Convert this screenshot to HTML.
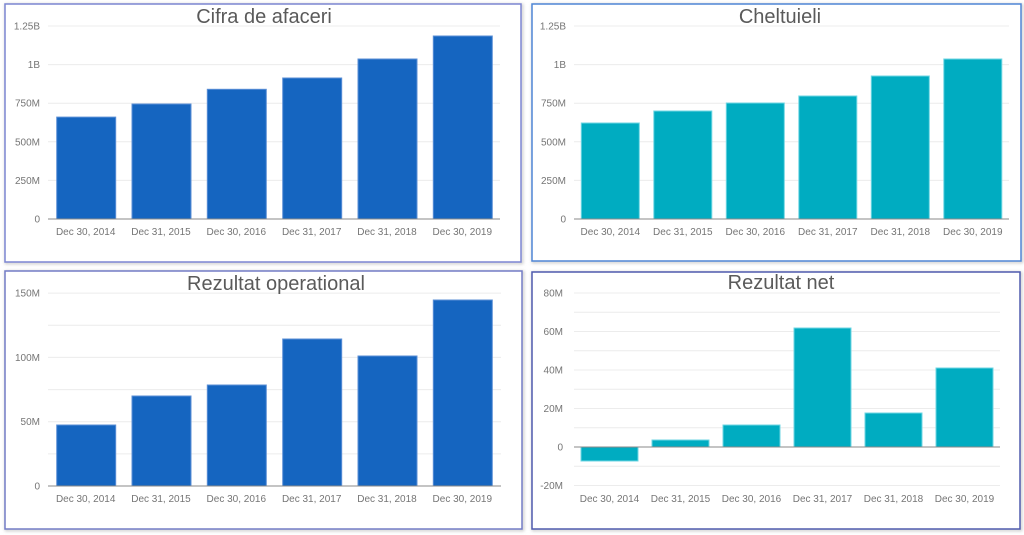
<!DOCTYPE html>
<html><head><meta charset="utf-8"><style>
html,body{margin:0;padding:0;background:#fff;}
svg{display:block;font-family:"Liberation Sans",Arial,sans-serif;}
.t{font-size:20px;fill:#5a5a5a;text-anchor:middle;}
.yl{font-size:10px;fill:#757575;text-anchor:end;}
.xl{font-size:10px;fill:#757575;text-anchor:middle;}
.g{stroke:#ececec;stroke-width:1;}
.ax{stroke:#8a8a8a;stroke-width:1;}
.b1{fill:#1565c0;stroke:#5b8fd6;stroke-width:1;}
.b2{fill:#00acc1;stroke:#6fd6e3;stroke-width:1;}
</style></head><body>
<svg width="1024" height="535" viewBox="0 0 1024 535" xmlns="http://www.w3.org/2000/svg">
<defs><filter id="sh" x="-5%" y="-5%" width="110%" height="110%"><feGaussianBlur stdDeviation="1.5"/></filter></defs>
<!-- panel shadows -->
<rect x="6" y="5" width="516" height="258" fill="none" stroke="#bbb" stroke-width="2" filter="url(#sh)"/>
<rect x="533" y="5" width="489" height="257" fill="none" stroke="#bbb" stroke-width="2" filter="url(#sh)"/>
<rect x="6" y="272" width="517" height="258" fill="none" stroke="#bbb" stroke-width="2" filter="url(#sh)"/>
<rect x="533" y="273" width="488" height="257" fill="none" stroke="#bbb" stroke-width="2" filter="url(#sh)"/>
<!-- panels -->
<rect x="5" y="4" width="516" height="258" fill="#fff" stroke="#7c86d2" stroke-width="1.5"/>
<rect x="532" y="4" width="489" height="257" fill="#fff" stroke="#4f86d6" stroke-width="1.5"/>
<rect x="5" y="271" width="517" height="258" fill="#fff" stroke="#737cc6" stroke-width="1.5"/>
<rect x="532" y="272" width="488" height="257" fill="#fff" stroke="#4f5aae" stroke-width="1.5"/>

<!-- TL: Cifra de afaceri -->
<g>
<line class="g" x1="48" x2="500" y1="26" y2="26"/>
<line class="g" x1="48" x2="500" y1="64.6" y2="64.6"/>
<line class="g" x1="48" x2="500" y1="103.2" y2="103.2"/>
<line class="g" x1="48" x2="500" y1="141.8" y2="141.8"/>
<line class="g" x1="48" x2="500" y1="180.4" y2="180.4"/>
<text class="yl" x="40" y="29.5">1.25B</text>
<text class="yl" x="40" y="68">1B</text>
<text class="yl" x="40" y="106.5">750M</text>
<text class="yl" x="40" y="145.5">500M</text>
<text class="yl" x="40" y="184">250M</text>
<text class="yl" x="40" y="222.5">0</text>
<rect class="b1" x="56.7" y="117.1" width="59" height="101.9"/>
<rect class="b1" x="132" y="104" width="59" height="115"/>
<rect class="b1" x="207.3" y="89.3" width="59" height="129.7"/>
<rect class="b1" x="282.7" y="78" width="59" height="141"/>
<rect class="b1" x="358" y="59" width="59" height="160"/>
<rect class="b1" x="433.3" y="36" width="59" height="183"/>
<line class="ax" x1="48" x2="500" y1="219" y2="219"/>
<text class="xl" x="85.7" y="235">Dec 30, 2014</text>
<text class="xl" x="161" y="235">Dec 31, 2015</text>
<text class="xl" x="236.3" y="235">Dec 30, 2016</text>
<text class="xl" x="311.7" y="235">Dec 31, 2017</text>
<text class="xl" x="387" y="235">Dec 31, 2018</text>
<text class="xl" x="462.3" y="235">Dec 30, 2019</text>
<text class="t" x="264" y="23">Cifra de afaceri</text>
</g>

<!-- TR: Cheltuieli -->
<g>
<line class="g" x1="574" x2="1009" y1="26" y2="26"/>
<line class="g" x1="574" x2="1009" y1="64.6" y2="64.6"/>
<line class="g" x1="574" x2="1009" y1="103.2" y2="103.2"/>
<line class="g" x1="574" x2="1009" y1="141.8" y2="141.8"/>
<line class="g" x1="574" x2="1009" y1="180.4" y2="180.4"/>
<text class="yl" x="566" y="29.5">1.25B</text>
<text class="yl" x="566" y="68">1B</text>
<text class="yl" x="566" y="106.5">750M</text>
<text class="yl" x="566" y="145.5">500M</text>
<text class="yl" x="566" y="184">250M</text>
<text class="yl" x="566" y="222.5">0</text>
<rect class="b2" x="581.3" y="123" width="58" height="96"/>
<rect class="b2" x="653.8" y="111" width="58" height="108"/>
<rect class="b2" x="726.3" y="103" width="58" height="116"/>
<rect class="b2" x="798.8" y="96" width="58" height="123"/>
<rect class="b2" x="871.3" y="76" width="58" height="143"/>
<rect class="b2" x="943.8" y="59" width="58" height="160"/>
<line class="ax" x1="574" x2="1009" y1="219" y2="219"/>
<text class="xl" x="610.3" y="235">Dec 30, 2014</text>
<text class="xl" x="682.8" y="235">Dec 31, 2015</text>
<text class="xl" x="755.3" y="235">Dec 30, 2016</text>
<text class="xl" x="827.8" y="235">Dec 31, 2017</text>
<text class="xl" x="900.3" y="235">Dec 31, 2018</text>
<text class="xl" x="972.8" y="235">Dec 30, 2019</text>
<text class="t" x="780" y="23">Cheltuieli</text>
</g>

<!-- BL: Rezultat operational -->
<g>
<line class="g" x1="48" x2="501" y1="293.1" y2="293.1"/>
<line class="g" x1="48" x2="501" y1="325.3" y2="325.3"/>
<line class="g" x1="48" x2="501" y1="357.4" y2="357.4"/>
<line class="g" x1="48" x2="501" y1="389.6" y2="389.6"/>
<line class="g" x1="48" x2="501" y1="421.7" y2="421.7"/>
<line class="g" x1="48" x2="501" y1="453.9" y2="453.9"/>
<text class="yl" x="40" y="296.6">150M</text>
<text class="yl" x="40" y="360.9">100M</text>
<text class="yl" x="40" y="425.2">50M</text>
<text class="yl" x="40" y="489.5">0</text>
<rect class="b1" x="56.7" y="425" width="59" height="61"/>
<rect class="b1" x="132" y="396" width="59" height="90"/>
<rect class="b1" x="207.3" y="385" width="59" height="101"/>
<rect class="b1" x="282.7" y="339" width="59" height="147"/>
<rect class="b1" x="358" y="356" width="59" height="130"/>
<rect class="b1" x="433.3" y="300" width="59" height="186"/>
<line class="ax" x1="48" x2="501" y1="486" y2="486"/>
<text class="xl" x="85.7" y="502">Dec 30, 2014</text>
<text class="xl" x="161" y="502">Dec 31, 2015</text>
<text class="xl" x="236.3" y="502">Dec 30, 2016</text>
<text class="xl" x="311.7" y="502">Dec 31, 2017</text>
<text class="xl" x="387" y="502">Dec 31, 2018</text>
<text class="xl" x="462.3" y="502">Dec 30, 2019</text>
<text class="t" x="276" y="290">Rezultat operational</text>
</g>

<!-- BR: Rezultat net -->
<g>
<line class="g" x1="574" x2="1000" y1="293" y2="293"/>
<line class="g" x1="574" x2="1000" y1="312.3" y2="312.3"/>
<line class="g" x1="574" x2="1000" y1="331.5" y2="331.5"/>
<line class="g" x1="574" x2="1000" y1="350.8" y2="350.8"/>
<line class="g" x1="574" x2="1000" y1="370" y2="370"/>
<line class="g" x1="574" x2="1000" y1="389.3" y2="389.3"/>
<line class="g" x1="574" x2="1000" y1="408.5" y2="408.5"/>
<line class="g" x1="574" x2="1000" y1="427.8" y2="427.8"/>
<line class="g" x1="574" x2="1000" y1="466.3" y2="466.3"/>
<line class="g" x1="574" x2="1000" y1="485.5" y2="485.5"/>
<text class="yl" x="563" y="296.5">80M</text>
<text class="yl" x="563" y="335">60M</text>
<text class="yl" x="563" y="373.5">40M</text>
<text class="yl" x="563" y="412">20M</text>
<text class="yl" x="563" y="450.5">0</text>
<text class="yl" x="563" y="489">-20M</text>
<rect class="b2" x="581" y="447" width="57" height="14"/>
<rect class="b2" x="652" y="440" width="57" height="7"/>
<rect class="b2" x="723" y="425" width="57" height="22"/>
<rect class="b2" x="794" y="328" width="57" height="119"/>
<rect class="b2" x="865" y="413" width="57" height="34"/>
<rect class="b2" x="936" y="368" width="57" height="79"/>
<line class="ax" x1="574" x2="1000" y1="447" y2="447"/>
<text class="xl" x="609.5" y="502">Dec 30, 2014</text>
<text class="xl" x="680.5" y="502">Dec 31, 2015</text>
<text class="xl" x="751.5" y="502">Dec 30, 2016</text>
<text class="xl" x="822.5" y="502">Dec 31, 2017</text>
<text class="xl" x="893.5" y="502">Dec 31, 2018</text>
<text class="xl" x="964.5" y="502">Dec 30, 2019</text>
<text class="t" x="781" y="289">Rezultat net</text>
</g>
</svg>
</body></html>
